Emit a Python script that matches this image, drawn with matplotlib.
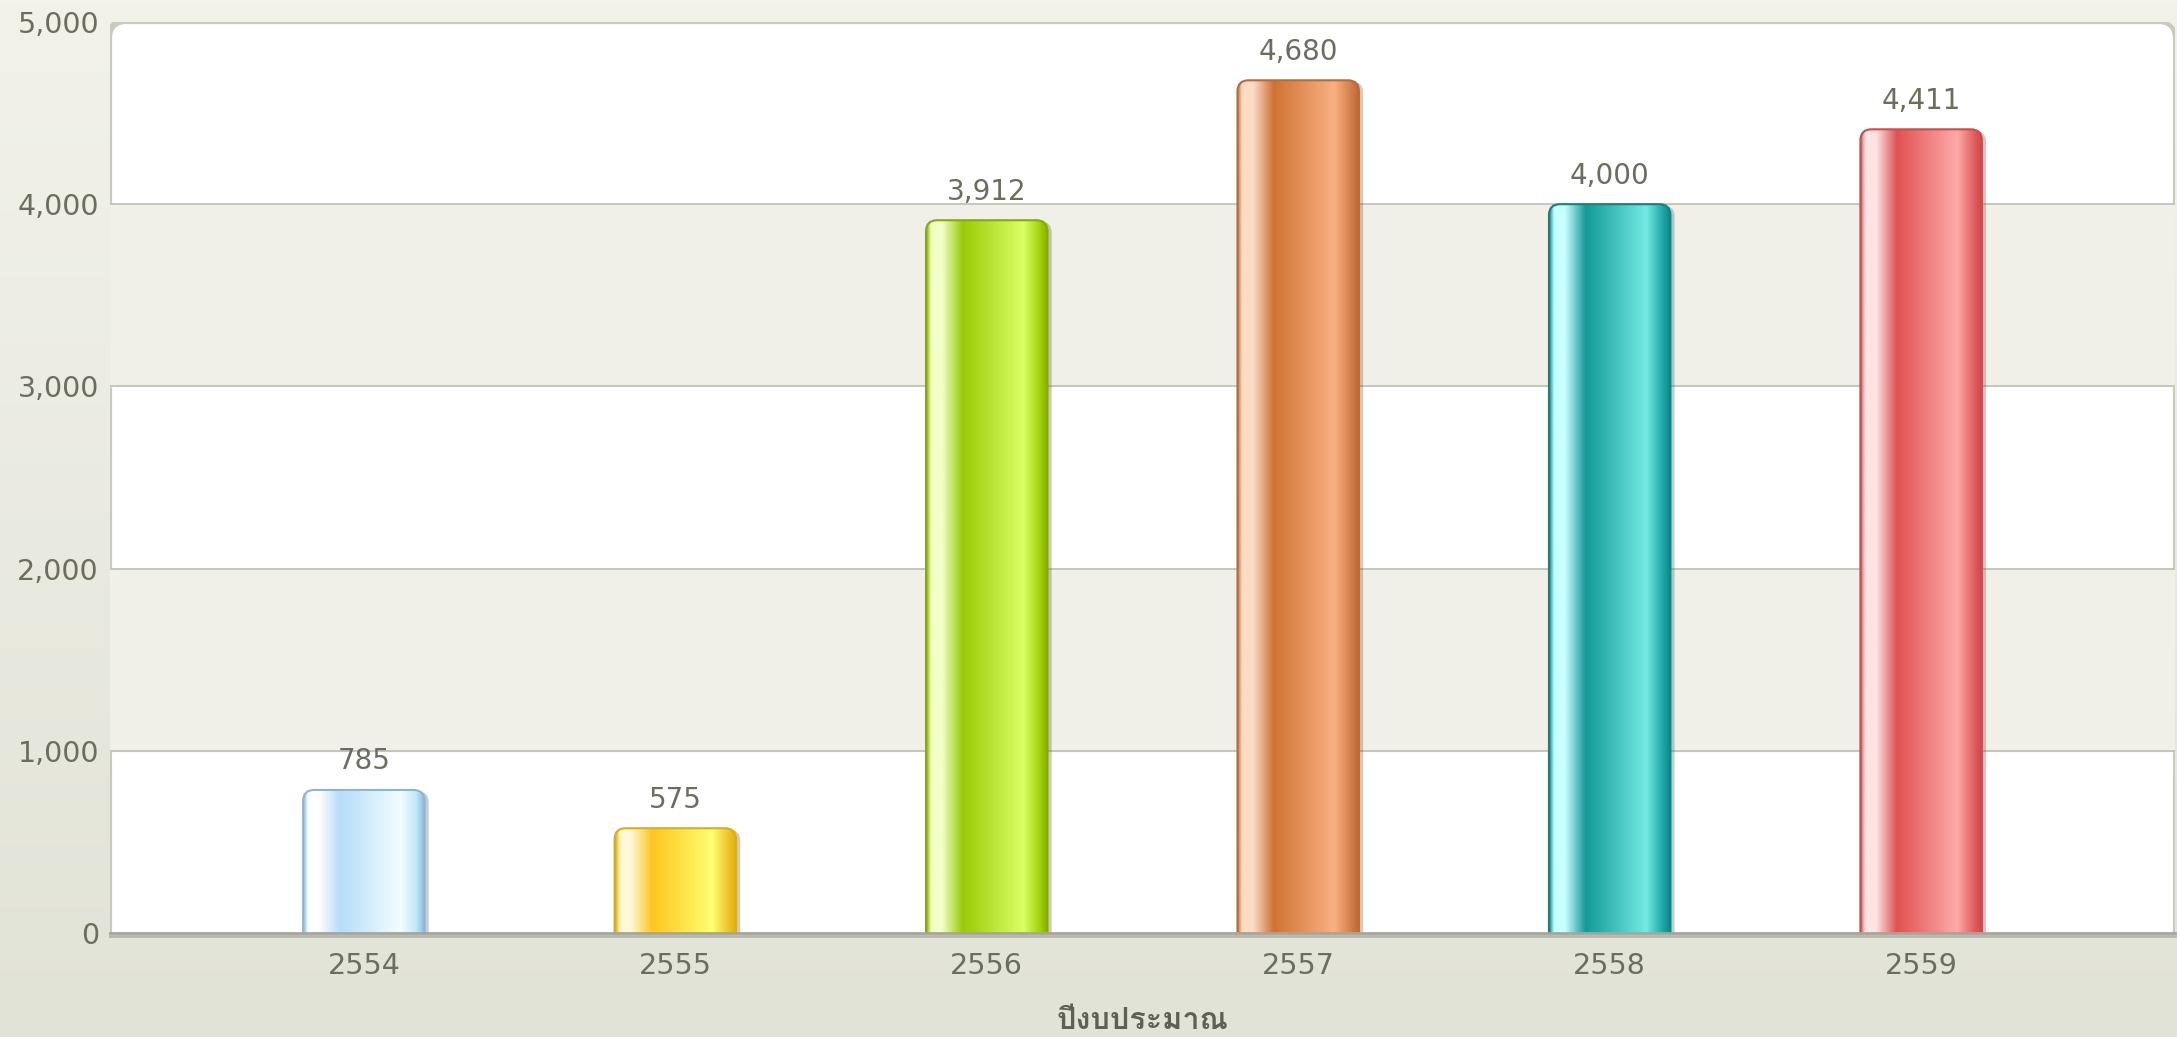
import numpy as np
import matplotlib
matplotlib.use("Agg")
import matplotlib.pyplot as plt
from matplotlib import font_manager
from matplotlib.ft2font import FT2Font
from matplotlib.patches import FancyBboxPatch
import matplotlib.patheffects as pe
from matplotlib.colors import to_rgb

# Data
years = ["2554", "2555", "2556", "2557", "2558", "2559"]
values = [785, 575, 3912, 4680, 4000, 4411]
x_title = "ปีงบประมาณ"

# gradient stops per bar: border, highlight, dark, light, right edge
bar_colors = [
    ["#8cb6d6", "#ffffff", "#b6ddfa", "#f2fdff", "#bfe9fb"],
    ["#dcae10", "#fff8d8", "#ffc61e", "#ffff73", "#f0c428"],
    ["#86ad00", "#f2ffc6", "#9acb06", "#dbff66", "#a4d40c"],
    ["#bd6a36", "#fcdcc6", "#d07233", "#f9b183", "#d5804c"],
    ["#0f8585", "#c8ffff", "#139a98", "#73e9e2", "#22aaa8"],
    ["#cf4a4a", "#ffe2e2", "#e05252", "#ffaaaa", "#e36060"],
]

# find a font that can draw Thai
thai_font = None
for f in font_manager.fontManager.ttflist:
    try:
        if 0x0E1B in FT2Font(f.fname).get_charmap():
            thai_font = f.name
            break
    except Exception:
        pass

text_col = "#6b6e5e"
W, H = 2177, 1037
fig = plt.figure(figsize=(W / 100, H / 100), dpi=100)

# figure background gradient
bg = fig.add_axes([0, 0, 1, 1], zorder=-10)
grad = np.linspace(0, 1, 256)[:, None]
c1, c2 = np.array(to_rgb("#f2f2e9")), np.array(to_rgb("#e2e3d7"))
bg.imshow(c1 + (c2 - c1) * grad[:, :, None] * np.ones((1, 2, 1)), aspect="auto",
          extent=[0, 1, 0, 1])
bg.axis("off")

left, right, top, base = 110, 2175, 22, 933
ax = fig.add_axes([left / W, 1 - base / H, (right - left) / W, (base - top) / H])
ax.set_xlim(-0.815, 5.815)
ax.set_ylim(0, 5000)
ax.patch.set_visible(False)
for s in ax.spines.values():
    s.set_visible(False)

# plot frame with rounded top corners
aw, ah = right - left, base - top
frame = FancyBboxPatch((0, -0.05), 1, 1.05, boxstyle="round,pad=0,rounding_size=0.008",
                       mutation_aspect=aw / ah, transform=ax.transAxes,
                       facecolor="white", edgecolor="#c9cabf", lw=3, zorder=0,
                       path_effects=[pe.SimplePatchShadow(offset=(-2, 2), alpha=0.25),
                                     pe.Normal()])
ax.add_patch(frame)
for lo in [1000, 3000]:
    band = ax.axhspan(lo, lo + 1000, color="#f0f0e9", zorder=0.5)
    band.set_clip_path(frame)
for yv in [1000, 2000, 3000, 4000]:
    ax.axhline(yv, color="#c2c3b8", lw=1.3, zorder=0.6)

# bars
xs = np.arange(len(years))
bw = 0.39
px_x = aw / 6.63
px_y = ah / 5000
r = 11 / px_x
stops = [0.0, 0.04, 0.13, 0.3, 0.8, 0.93, 1.0]
for i, (v, cols) in enumerate(zip(values, bar_colors)):
    x0 = xs[i] - bw / 2
    shape = FancyBboxPatch((x0, -200), bw, v + 200,
                           boxstyle=f"round,pad=0,rounding_size={r}",
                           mutation_aspect=px_x / px_y, facecolor=cols[0],
                           edgecolor="none", zorder=2,
                           path_effects=[pe.SimplePatchShadow(offset=(3, -1), alpha=0.3,
                                                              shadow_rgbFace="#555555"),
                                         pe.Normal()])
    ax.add_patch(shape)
    seq = [cols[0], cols[1], cols[1], cols[2], cols[3], cols[4], cols[0]]
    rgb = np.array([to_rgb(c) for c in seq])
    t = np.linspace(0, 1, 200)
    img = np.stack([np.interp(t, stops, rgb[:, k]) for k in range(3)], axis=-1)[None, :, :]
    im = ax.imshow(img, aspect="auto", extent=[x0, x0 + bw, -200, v], zorder=3,
                   interpolation="bilinear")
    im.set_clip_path(shape)
    edge = FancyBboxPatch((x0, -200), bw, v + 200,
                          boxstyle=f"round,pad=0,rounding_size={r}",
                          mutation_aspect=px_x / px_y, facecolor="none",
                          edgecolor=cols[0], lw=1.5, zorder=4)
    ax.add_patch(edge)
    ax.text(xs[i], v + 80, f"{v:,}", ha="center", va="bottom", fontsize=20,
            color=text_col, zorder=5)

ax.set_xlim(-0.815, 5.815)
ax.set_ylim(0, 5000)

# baseline
ax.axhline(0, color="#a5a69a", lw=2, zorder=5, clip_on=False,
           path_effects=[pe.SimpleLineShadow(offset=(0, -2), alpha=0.2), pe.Normal()])

ax.set_xticks(xs)
ax.set_xticklabels(years)
ax.set_yticks([0, 1000, 2000, 3000, 4000, 5000])
ax.set_yticklabels([f"{v:,}" for v in [0, 1000, 2000, 3000, 4000, 5000]])
ax.tick_params(axis="x", length=0, pad=14, labelsize=20.5, labelcolor=text_col)
ax.tick_params(axis="y", length=0, pad=8, labelsize=20.5, labelcolor=text_col)

fam = [thai_font, "DejaVu Sans"] if thai_font else ["DejaVu Sans"]
fig.text((left + right) / 2 / W, 1 - 1021 / H, x_title, ha="center", va="center",
         fontsize=22, fontweight="bold", color="#5e6152", family=fam)

fig.savefig("out.png", dpi=100)
